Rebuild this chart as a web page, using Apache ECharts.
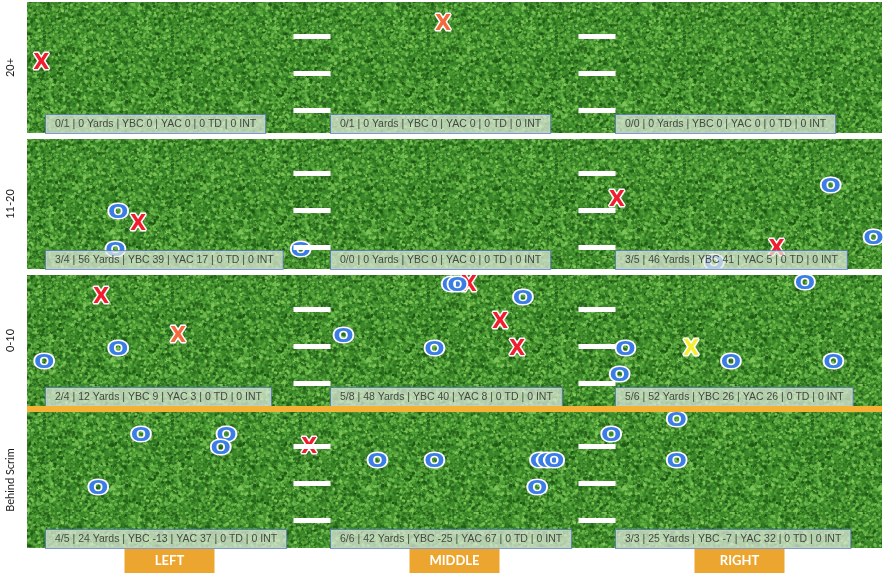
<!DOCTYPE html>
<html>
<head>
<meta charset="utf-8">
<script src="https://cdn.jsdelivr.net/npm/echarts@6/dist/echarts.min.js"></script>
<style>
html, body { margin: 0; padding: 0; background: #fff; }
#main { width: 889px; height: 573px; }
</style>
</head>
<body>
<div id="main"></div>
<script>
var bands = ['20+', '11-20', '0-10', 'Behind Scrim'];
var columns = ['LEFT', 'MIDDLE', 'RIGHT'];
// yards shown in each band, bottom to top
var bandRange = [[20, 30], [10, 20], [0, 10], [-10.4, 0]];
// hash marks, yards below the top of a band
var hashDepth = [2.6, 5.45, 8.3];

// throws: [across the field 0-3 (left to right), yards, result]
// C complete, I incomplete, D orange X, B yellow X
var throws20 = [[0.05, 25.3, 'I'], [1.46, 28.3, 'D']];
var throws11 = [
  [0.32, 14.3, 'C'], [0.31, 11.4, 'C'], [0.96, 11.4, 'C'], [0.39, 13.4, 'I'],
  [2.07, 15.3, 'I'], [2.63, 11.5, 'I'], [2.82, 16.3, 'C'], [2.97, 12.3, 'C'], [2.41, 10.4, 'C']
];
var throws0 = [
  [0.26, 8.3, 'I'], [0.53, 5.3, 'D'], [0.32, 4.3, 'C'], [0.06, 3.3, 'C'],
  [1.55, 9.2, 'I'], [1.49, 9.2, 'C'], [1.51, 9.2, 'C'], [1.11, 5.3, 'C'], [1.43, 4.3, 'C'],
  [1.74, 8.2, 'C'], [1.66, 6.4, 'I'], [1.72, 4.3, 'I'],
  [2.73, 9.3, 'C'], [2.10, 4.3, 'C'], [2.33, 4.3, 'B'], [2.47, 3.3, 'C'], [2.83, 3.3, 'C'], [2.08, 2.3, 'C']
];
var throwsBehind = [
  [0.40, -1.8, 'C'], [0.70, -1.8, 'C'], [0.68, -2.8, 'C'], [0.25, -5.9, 'C'], [0.99, -2.7, 'I'],
  [1.23, -3.8, 'C'], [1.43, -3.8, 'C'], [1.80, -3.8, 'C'], [1.825, -3.8, 'C'], [1.85, -3.8, 'C'], [1.79, -5.9, 'C'],
  [2.28, -0.7, 'C'], [2.05, -1.8, 'C'], [2.28, -3.8, 'C']
];
var throwsByBand = [throws20, throws11, throws0, throwsBehind];

// per column: [comp, att, yards, ybc, yac, td, int]
var stats20 = [[0, 1, 0, 0, 0, 0, 0], [0, 1, 0, 0, 0, 0, 0], [0, 0, 0, 0, 0, 0, 0]];
var stats11 = [[3, 4, 56, 39, 17, 0, 0], [0, 0, 0, 0, 0, 0, 0], [3, 5, 46, 41, 5, 0, 0]];
var stats0 = [[2, 4, 12, 9, 3, 0, 0], [5, 8, 48, 40, 8, 0, 0], [5, 6, 52, 26, 26, 0, 0]];
var statsBehind = [[4, 5, 24, -13, 37, 0, 0], [6, 6, 42, -25, 67, 0, 0], [3, 3, 25, -7, 32, 0, 0]];
var statsByBand = [stats20, stats11, stats0, statsBehind];

var resultStyle = {
  C: { text: 'O', color: '#3a7de4', size: 20, stretch: 1.2 },
  I: { text: 'X', color: '#f01d2d', size: 21, stretch: 1 },
  D: { text: 'X', color: '#f26a3c', size: 21, stretch: 1 },
  B: { text: 'X', color: '#f3ef2e', size: 21, stretch: 1 }
};

var gridBox = [[2, 131], [139, 130], [275, 131], [412, 136]];

function turf() {
  var c = document.createElement('canvas');
  c.width = c.height = 128;
  var g = c.getContext('2d');
  g.fillStyle = '#3a8729';
  g.fillRect(0, 0, 128, 128);
  var s = 11;
  function rnd() { s = (s * 16807) % 2147483647; return s / 2147483647; }
  var shades = ['#1b5213', '#286a1d', '#3d882a', '#53a339', '#6dbb4a', '#84cd5c'];
  for (var i = 0; i < 6000; i++) {
    g.fillStyle = shades[Math.floor(rnd() * shades.length)];
    g.globalAlpha = 0.45 + rnd() * 0.5;
    g.beginPath();
    g.arc(rnd() * 128, rnd() * 128, 0.6 + rnd() * 1.3, 0, Math.PI * 2);
    g.fill();
  }
  return c;
}
var turfPattern = { image: turf(), repeat: 'repeat' };

function statText(s) {
  return s[0] + '/' + s[1] + ' | ' + s[2] + ' Yards | YBC ' + s[3] + ' | YAC ' + s[4] +
    ' | ' + s[5] + ' TD | ' + s[6] + ' INT';
}

// letter with a white rim, drawn mark by mark so overlaps keep their order
function renderThrow(params, api) {
  var st = resultStyle[api.value(2)];
  var p = api.coord([api.value(0), api.value(1)]);
  var font = 'bold ' + st.size + 'px "DejaVu Sans"';
  return {
    type: 'group', x: p[0], y: p[1], scaleX: st.stretch,
    children: [
      { type: 'text',
        style: { text: st.text, font: font, align: 'center', verticalAlign: 'middle',
          fill: '#fff', stroke: '#fff', lineWidth: 3, lineJoin: 'round' } },
      { type: 'text',
        style: { text: st.text, font: font, align: 'center', verticalAlign: 'middle', fill: st.color } }
    ]
  };
}

var grids = [], xAxes = [], yAxes = [], series = [];
bands.forEach(function (name, b) {
  var r = bandRange[b];
  grids.push({
    left: 27, right: 7, top: gridBox[b][0], height: gridBox[b][1],
    outerBoundsMode: 'none', containLabel: false,
    show: true, borderWidth: 0, backgroundColor: turfPattern
  });
  xAxes.push({ type: 'value', gridIndex: b, min: 0, max: 3, show: false });
  yAxes.push({
    type: 'value', gridIndex: b, min: r[0], max: r[1],
    name: name, nameLocation: 'middle', nameRotate: 90, nameGap: 11,
    nameTextStyle: { color: '#1a1a1a', fontSize: 11, fontFamily: 'Lato' },
    axisLine: { show: false }, axisTick: { show: false },
    axisLabel: { show: false }, splitLine: { show: false }
  });

  var hashes = [];
  [1, 2].forEach(function (edge) {
    hashDepth.forEach(function (d) {
      hashes.push([{ coord: [edge - 0.065, r[1] - d] }, { coord: [edge + 0.065, r[1] - d] }]);
    });
  });
  series.push({
    type: 'scatter', xAxisIndex: b, yAxisIndex: b, data: [], z: 1, silent: true,
    markLine: {
      silent: true, symbol: ['none', 'none'], label: { show: false },
      lineStyle: { color: '#fff', width: 5, type: 'solid', opacity: 1 },
      emphasis: { disabled: true },
      data: hashes
    }
  });

  series.push({
    type: 'custom', xAxisIndex: b, yAxisIndex: b, z: 3, silent: true,
    renderItem: renderThrow,
    data: throwsByBand[b]
  });

  series.push({
    type: 'scatter', xAxisIndex: b, yAxisIndex: b, z: 5, silent: true,
    symbolSize: 0,
    data: statsByBand[b].map(function (s, i) {
      return { value: [i + 0.0666, r[0]], name: statText(s) };
    }),
    label: {
      show: true, position: [0, 0], align: 'left', verticalAlign: 'bottom',
      formatter: '{b}', color: '#262626', fontSize: 10.5, fontFamily: 'Liberation Sans',
      backgroundColor: 'rgba(226,235,222,0.9)', borderColor: '#5d82b6', borderWidth: 1,
      padding: [4, 9, 3, 9]
    }
  });
});

xAxes.push({
  type: 'category', gridIndex: 3, data: columns, position: 'bottom',
  axisLine: { show: false }, axisTick: { show: false }, splitLine: { show: false },
  axisLabel: {
    margin: 1, color: '#fff', fontSize: 13, fontWeight: 'bold', fontFamily: 'Lato',
    backgroundColor: '#eca52f', width: 90, height: 24, lineHeight: 24, align: 'center'
  }
});

var myChart = echarts.init(document.getElementById('main'));
myChart.setOption({
  animation: false,
  grid: grids,
  xAxis: xAxes,
  yAxis: yAxes,
  series: series,
  graphic: [{
    type: 'rect', left: 27, top: 406, z: 10, silent: true,
    shape: { width: 855, height: 6 },
    style: { fill: '#f4b234' }
  }]
});
</script>
</body>
</html>
